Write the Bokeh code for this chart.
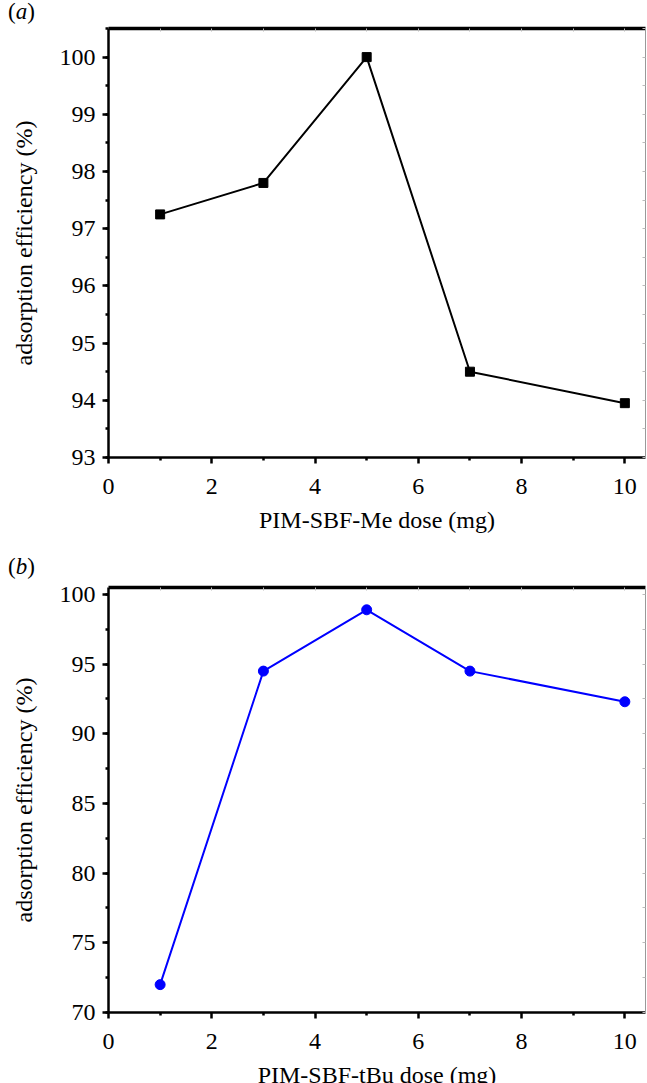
from bokeh.plotting import figure
from bokeh.layouts import column
from bokeh.models import Range1d, LinearAxis, FixedTicker, Div
from bokeh.embed import file_html
from bokeh.resources import INLINE

dose_a = [1, 3, 5, 7, 10]
eff_a = [97.25, 97.8, 100.0, 94.5, 93.95]
dose_b = [1, 3, 5, 7, 10]
eff_b = [72.0, 94.5, 98.9, 94.5, 92.3]
xlabel_a = "PIM-SBF-Me dose (mg)"
xlabel_b = "PIM-SBF-tBu dose (mg)"
ylabel = "adsorption efficiency (%)"

FONT = "'Liberation Serif', 'Times New Roman', serif"


def make(xs, ys, ymin, ymax, ystep, yminor, xlabel, color, marker,
         fh, mt, mb, title_standoff):
    p = figure(frame_width=537, frame_height=fh, output_backend="svg",
               toolbar_location=None, x_range=Range1d(0, 10.4),
               y_range=Range1d(ymin, ymax), min_border_left=108,
               min_border_right=1, min_border_top=mt, min_border_bottom=mb)
    p.xgrid.visible = False
    p.ygrid.visible = False
    p.outline_line_color = None
    p.background_fill_color = "white"
    p.border_fill_color = "white"

    for ax in (p.xaxis[0], p.yaxis[0]):
        ax.axis_line_width = 2.5
        ax.axis_line_color = "black"
        ax.major_tick_line_width = 2.5
        ax.minor_tick_line_width = 2.5
        ax.major_tick_in = 0
        ax.major_tick_out = 6
        ax.minor_tick_in = 0
        ax.minor_tick_out = 3
        ax.major_label_text_font = FONT
        ax.major_label_text_font_size = "24px"
        ax.major_label_text_color = "black"
        ax.axis_label_text_font = FONT
        ax.axis_label_text_font_style = "normal"
        ax.axis_label_text_font_size = "24px"
        ax.axis_label_text_color = "black"

    p.xaxis[0].ticker = FixedTicker(ticks=[0, 2, 4, 6, 8, 10],
                                    minor_ticks=[1, 3, 5, 7, 9])
    p.xaxis[0].major_label_standoff = 15
    p.xaxis[0].axis_label = xlabel
    p.xaxis[0].axis_label_standoff = title_standoff

    yt = []
    v = ymin
    while v <= ymax + 1e-9:
        yt.append(round(v, 6))
        v += ystep
    ym = []
    v = ymin
    while v <= ymax + 1e-9:
        ym.append(round(v, 6))
        v += yminor
    p.yaxis[0].ticker = FixedTicker(ticks=yt, minor_ticks=ym)
    p.yaxis[0].major_label_standoff = 7
    p.yaxis[0].axis_label = ylabel
    p.yaxis[0].axis_label_standoff = 20

    top = LinearAxis(ticker=FixedTicker(ticks=list(range(0, 11)), minor_ticks=[]),
                     axis_line_width=3.5, axis_line_color="black",
                     major_tick_in=3, major_tick_out=0,
                     major_tick_line_color="#bbbbbb", major_tick_line_width=1,
                     minor_tick_line_color=None,
                     major_label_text_color=None,
                     major_label_text_font_size="1px", major_label_standoff=0)
    p.add_layout(top, "above")
    right = LinearAxis(ticker=FixedTicker(ticks=ym, minor_ticks=[]),
                       axis_line_width=1, axis_line_color="#999999",
                       major_tick_in=3, major_tick_out=0,
                       major_tick_line_color="#bbbbbb", major_tick_line_width=1,
                       minor_tick_line_color=None,
                       major_label_text_color=None,
                       major_label_text_font_size="1px", major_label_standoff=0)
    p.add_layout(right, "right")

    p.line(xs, ys, line_color=color, line_width=2)
    if marker == "square":
        p.scatter(xs, ys, marker="square", size=9, fill_color=color,
                  line_color=color)
    else:
        p.scatter(xs, ys, marker="circle", size=10, fill_color=color,
                  line_color=color)
    return p


def letter_div(letter):
    return Div(text="(<i>%s</i>)" % letter, width=120, height=24,
               margin=(0, 0, 0, 0),
               styles={"font-family": FONT, "font-size": "23px",
                       "line-height": "24px", "color": "black",
                       "padding-left": "8px"})


pa = make(dose_a, eff_a, 93, 100.5, 1, 0.5, xlabel_a, "black", "square",
          429, 4, 98, 10)
pb = make(dose_b, eff_b, 70, 100.5, 5, 2.5, xlabel_b, "#0000ff", "circle",
          425, 8, 75, 10)

layout = column(letter_div("a"), pa, letter_div("b"), pb, spacing=0)
open("out.html", "w").write(file_html(layout, INLINE))
